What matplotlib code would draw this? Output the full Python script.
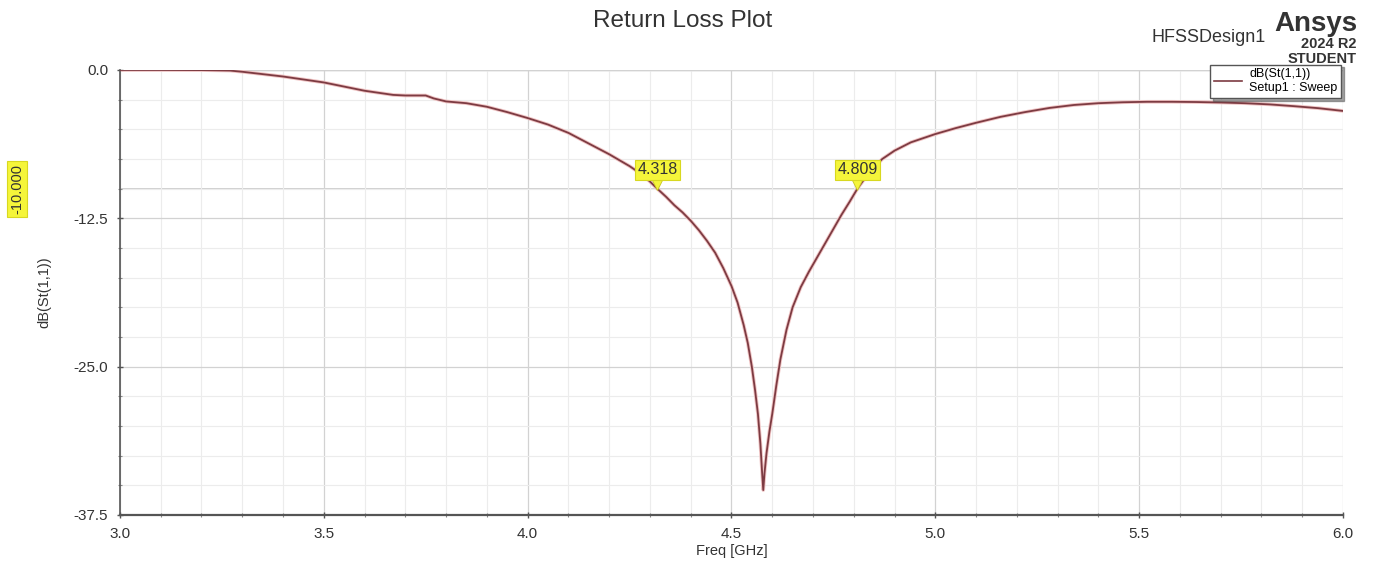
import matplotlib.pyplot as plt
from matplotlib.ticker import MultipleLocator
from matplotlib.lines import Line2D

plt.rcParams['font.family'] = ['Liberation Sans', 'DejaVu Sans']
plt.rcParams['axes.unicode_minus'] = False

# S11 sweep, frequency in GHz and return loss in dB
freq = [3.00, 3.10, 3.20, 3.27, 3.30, 3.35, 3.40, 3.45, 3.50, 3.55, 3.60, 3.64,
        3.67, 3.70, 3.75, 3.77, 3.80, 3.85, 3.90, 3.95, 4.00, 4.05, 4.10, 4.15,
        4.20, 4.25, 4.28, 4.30, 4.318, 4.34, 4.36, 4.38, 4.40, 4.42, 4.44, 4.46,
        4.48, 4.50, 4.515, 4.53, 4.54, 4.55, 4.558, 4.565, 4.571, 4.575, 4.578,
        4.581, 4.586, 4.593, 4.60, 4.61, 4.62, 4.635, 4.65, 4.67, 4.69, 4.71,
        4.73, 4.75, 4.77, 4.79, 4.809, 4.83, 4.85, 4.87, 4.90, 4.94, 5.00, 5.05,
        5.10, 5.16, 5.22, 5.28, 5.34, 5.40, 5.46, 5.52, 5.58, 5.64, 5.70, 5.76,
        5.82, 5.88, 5.94, 6.00]
s11_db = [0.0, 0.0, -0.01, -0.05, -0.15, -0.35, -0.55, -0.8, -1.05, -1.4, -1.75, -1.95,
          -2.1, -2.15, -2.15, -2.4, -2.65, -2.8, -3.1, -3.55, -4.05, -4.6, -5.3, -6.2,
          -7.1, -8.1, -8.8, -9.4, -10.0, -10.7, -11.4, -12.0, -12.7, -13.5, -14.4, -15.4,
          -16.7, -18.2, -19.6, -21.5, -23.0, -25.0, -27.0, -29.0, -31.5, -33.8, -35.4,
          -34.0, -32.3, -30.5, -29.0, -26.6, -24.4, -21.9, -20.0, -18.3, -17.0, -15.8,
          -14.6, -13.4, -12.2, -11.1, -10.0, -9.0, -8.2, -7.5, -6.8, -6.1, -5.4, -4.9,
          -4.45, -3.95, -3.55, -3.2, -2.95, -2.8, -2.72, -2.68, -2.68, -2.7, -2.74, -2.8,
          -2.9, -3.05, -3.22, -3.45]

markers = [4.318, 4.809]
ref_level = -10.0

fig = plt.figure(figsize=(13.74, 5.63), dpi=100)
ax = fig.add_axes([0.0873, 0.0853, 0.8901, 0.7904])

ax.plot(freq, s11_db, color='#f0c4c4', lw=2.6, solid_joinstyle='round', zorder=2)
ax.plot(freq, s11_db, color='#7d3b42', lw=1.3, solid_joinstyle='round', zorder=3)

ax.set_xlim(3.0, 6.0)
ax.set_ylim(-37.5, 0.0)
ax.xaxis.set_major_locator(MultipleLocator(0.5))
ax.xaxis.set_minor_locator(MultipleLocator(0.1))
ax.yaxis.set_major_locator(MultipleLocator(12.5))
ax.yaxis.set_minor_locator(MultipleLocator(2.5))
ax.xaxis.set_major_formatter('{x:.1f}')
ax.yaxis.set_major_formatter('{x:.1f}')
ax.grid(True, which='major', color='#d2d2d2', lw=0.9)
ax.grid(True, which='minor', color='#ececec', lw=0.8)
ax.tick_params(which='major', length=5, width=1, color='#555555', pad=6,
               labelsize=11, labelcolor='#333333', direction='inout')
ax.tick_params(which='minor', length=3, width=0.8, color='#888888', direction='inout')
for side in ['top', 'right']:
    ax.spines[side].set_visible(False)
ax.spines['left'].set_color('#555555')
ax.spines['bottom'].set_color('#555555')
ax.spines['bottom'].set_linewidth(1.6)
ax.spines['left'].set_linewidth(1.2)
ax.axhline(0.0, color='#9a9a9a', lw=1.6, zorder=1)

ax.set_xlabel('Freq [GHz]', fontsize=10.5, color='#333333', labelpad=2)
ax.set_ylabel('dB(St(1,1))', fontsize=10.5, color='#333333', labelpad=16)

# -10 dB reference line with its tag on the left
ax.axhline(ref_level, color='#c8c8c8', lw=1.2, zorder=1)
ax.text(-0.084, ref_level, '-10.000', transform=ax.get_yaxis_transform(),
        rotation=90, ha='center', va='center', fontsize=10.5, color='#333333',
        bbox=dict(boxstyle='square,pad=0.2', fc='#f5f53a', ec='#d8d820', lw=0.8))

# markers where the curve crosses -10 dB
for m in markers:
    ax.plot(m, ref_level + 0.55, marker='v', ms=11, color='#f5f53a',
            mec='#c8c820', mew=0.6, zorder=5)
    ax.text(m, ref_level + 1.6, f'{m:.3f}', ha='center', va='center', fontsize=11.5,
            color='#333333', zorder=6,
            bbox=dict(boxstyle='square,pad=0.15', fc='#f5f53a', ec='#d8d820', lw=0.8))

fig.text(0.497, 0.962, 'Return Loss Plot', ha='center', va='center',
         fontsize=17.5, color='#333333')
fig.text(0.921, 0.934, 'HFSSDesign1', ha='right', va='center',
         fontsize=13, color='#333333')
fig.text(0.988, 0.958, 'Ansys', ha='right', va='center', fontsize=20,
         fontweight='bold', color='#333333')
fig.text(0.987, 0.922, '2024 R2', ha='right', va='center', fontsize=10.5,
         fontweight='bold', color='#333333')
fig.text(0.987, 0.895, 'STUDENT', ha='right', va='center', fontsize=10.5,
         fontweight='bold', color='#333333')

# legend box
handle = Line2D([], [], color='#7d3b42', lw=1.2)
leg = ax.legend([handle], ['dB(St(1,1))\nSetup1 : Sweep'], loc='upper right',
                bbox_to_anchor=(0.9985, 1.012), fontsize=9, frameon=True,
                fancybox=False, shadow=True, handlelength=2.2, borderpad=0.3,
                handletextpad=0.6, borderaxespad=0)
leg.get_frame().set_edgecolor('#555555')
leg.get_frame().set_linewidth(1.0)
leg.set_zorder(10)

fig.savefig('out.png', dpi=100, facecolor='white')
